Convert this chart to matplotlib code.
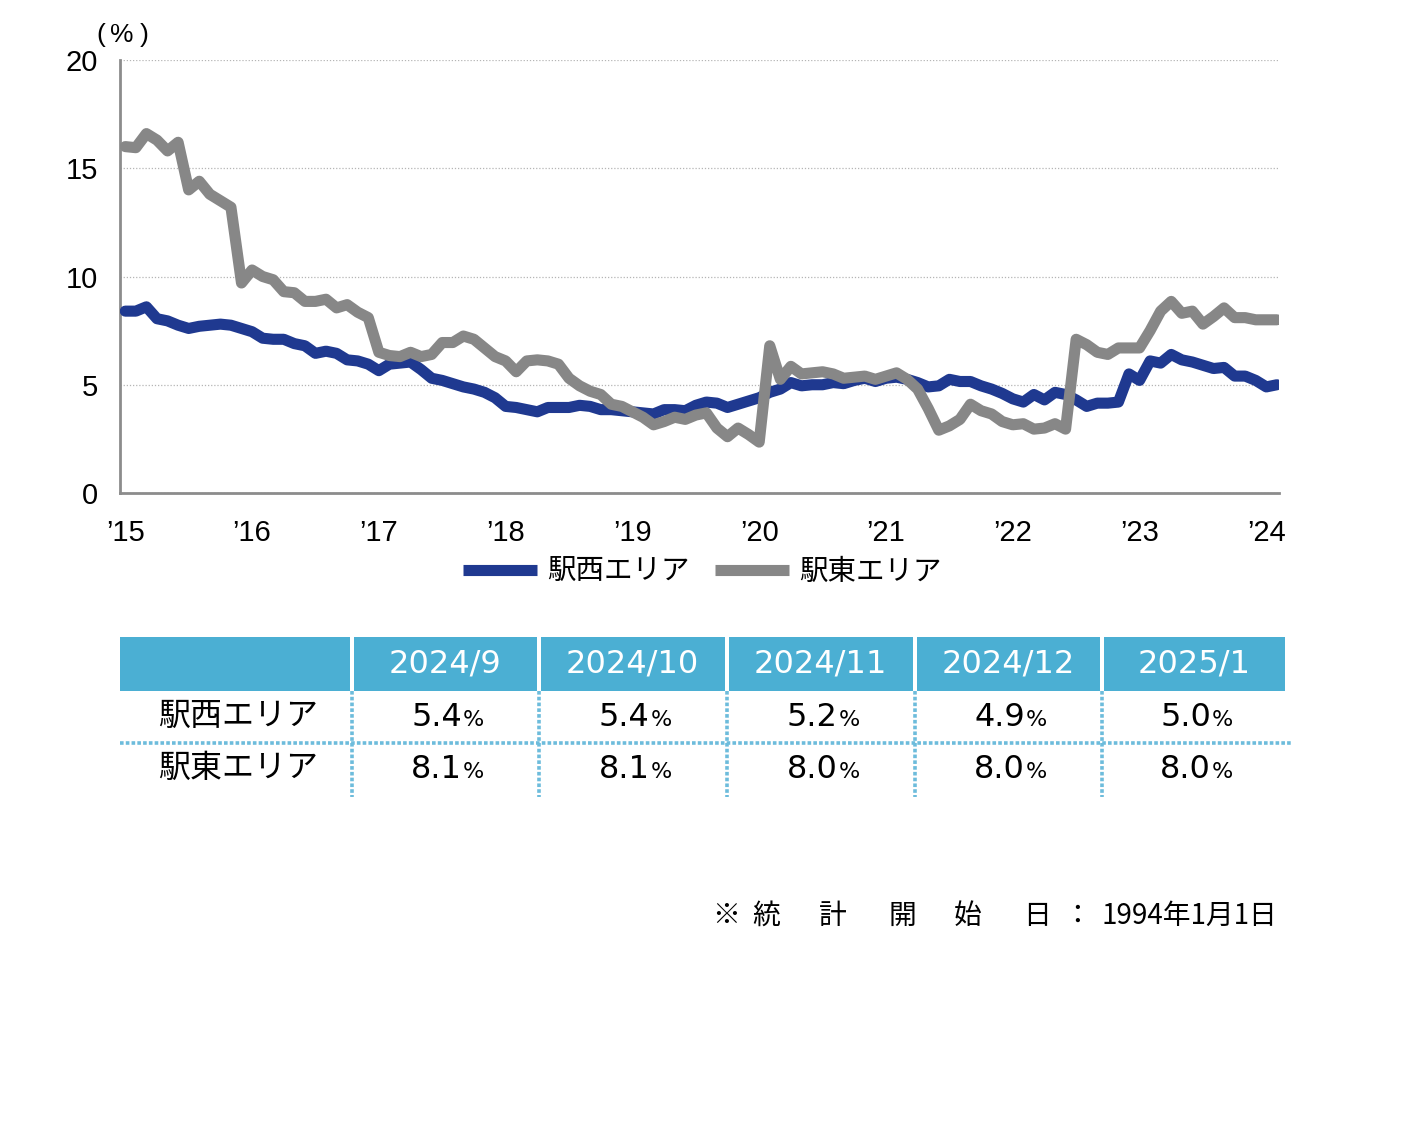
import matplotlib
matplotlib.use("Agg")
import matplotlib.pyplot as plt
from matplotlib.patches import Rectangle
from matplotlib.lines import Line2D

plt.rcParams['font.family'] = ['Noto Sans CJK JP', 'DejaVu Sans']

# monthly vacancy rate (%), 2015/12 .. 2025/1
west = [8.4, 8.4, 8.6, 8.05, 7.95, 7.75, 7.6, 7.7, 7.75, 7.8,
        7.75, 7.6, 7.45, 7.15, 7.1, 7.1, 6.9, 6.8, 6.45, 6.55,
        6.45, 6.15, 6.1, 5.95, 5.65, 5.95, 6.0, 6.05, 5.7, 5.3,
        5.2, 5.05, 4.9, 4.8, 4.65, 4.4, 4.0, 3.95, 3.85, 3.75,
        3.95, 3.95, 3.95, 4.05, 4.0, 3.85, 3.85, 3.8, 3.75, 3.7,
        3.65, 3.85, 3.85, 3.8, 4.05, 4.2, 4.15, 3.95, 4.1, 4.25,
        4.4, 4.65, 4.8, 5.1, 4.95, 5.0, 5.0, 5.1, 5.05, 5.2,
        5.3, 5.15, 5.3, 5.35, 5.25, 5.1, 4.9, 4.95, 5.25, 5.15,
        5.15, 4.95, 4.8, 4.6, 4.35, 4.2, 4.55, 4.3, 4.65, 4.55,
        4.3, 4.0, 4.15, 4.15, 4.2, 5.5, 5.2, 6.1, 6.0, 6.4,
        6.15, 6.05, 5.9, 5.75, 5.8, 5.4, 5.4, 5.2, 4.9, 5.0]
east = [16.0, 15.95, 16.6, 16.3, 15.8, 16.2, 14.0, 14.4, 13.8, 13.5,
        13.2, 9.7, 10.3, 10.0, 9.85, 9.3, 9.25, 8.85, 8.85, 8.95,
        8.55, 8.7, 8.35, 8.1, 6.5, 6.35, 6.3, 6.5, 6.3, 6.4,
        6.95, 6.95, 7.25, 7.1, 6.7, 6.3, 6.1, 5.6, 6.1, 6.15,
        6.1, 5.95, 5.3, 4.95, 4.7, 4.55, 4.1, 4.0, 3.75, 3.5,
        3.15, 3.3, 3.5, 3.4, 3.6, 3.7, 3.0, 2.6, 3.0, 2.7,
        2.35, 6.8, 5.25, 5.85, 5.5, 5.55, 5.6, 5.5, 5.3, 5.35,
        5.4, 5.25, 5.4, 5.55, 5.25, 4.8, 3.9, 2.9, 3.1, 3.4,
        4.1, 3.8, 3.65, 3.3, 3.15, 3.2, 2.95, 3.0, 3.2, 2.95,
        7.1, 6.85, 6.5, 6.4, 6.7, 6.7, 6.7, 7.5, 8.4, 8.85,
        8.3, 8.4, 7.8, 8.15, 8.55, 8.1, 8.1, 8.0, 8.0, 8.0]
year_labels = ["’15", "’16", "’17", "’18", "’19", "’20", "’21", "’22", "’23", "’24"]
names = ["駅西エリア", "駅東エリア"]

table_months = ["2024/9", "2024/10", "2024/11", "2024/12", "2025/1"]
table_west = ["5.4", "5.4", "5.2", "4.9", "5.0"]
table_east = ["8.1", "8.1", "8.0", "8.0", "8.0"]

BLUE = "#1f3990"
GRAY = "#878787"
HEAD = "#4bafd3"
DOT = "#6dbcdc"

W, H = 1412, 1148
fig = plt.figure(figsize=(W / 100, H / 100), dpi=100)

# ---- line chart ----
ax = fig.add_axes([120 / W, 1 - 493 / H, 1159 / W, 433 / H])
x = list(range(len(west)))
ax.plot(x, west, color=BLUE, lw=8, solid_joinstyle="round",
        solid_capstyle="round", zorder=3)
ax.plot(x, east, color=GRAY, lw=8, solid_joinstyle="round",
        solid_capstyle="round", zorder=4)

ax.set_xlim(-0.5, 109.2)
ax.set_ylim(0, 20)
ax.set_yticks([0, 5, 10, 15, 20])
ax.set_xticks(range(0, 12 * len(year_labels), 12))
ax.set_xticklabels(year_labels)
for s in ["top", "right"]:
    ax.spines[s].set_visible(False)
for s in ["left", "bottom"]:
    ax.spines[s].set_color("#8c8c8c")
    ax.spines[s].set_linewidth(2)
ax.tick_params(length=0)
ax.tick_params(axis="y", pad=16)
ax.tick_params(axis="x", pad=19)
for lab in ax.get_xticklabels() + ax.get_yticklabels():
    lab.set_family("Liberation Sans")
    lab.set_fontsize(21)
ax.yaxis.grid(True, linestyle=(0, (1, 1.5)), color="#b5b5b5", lw=0.9)
ax.set_axisbelow(True)

# unit label "（%）"
for ch, xv in zip(["(", "%", ")"], [101, 122, 144]):
    fig.text(xv / W, 1 - 35 / H, ch, fontsize=19, ha="center", va="center",
             family="Liberation Sans")

handles = [Line2D([], [], color=BLUE, lw=8, solid_capstyle="butt"),
           Line2D([], [], color=GRAY, lw=8, solid_capstyle="butt")]
fig.legend(handles, names, loc="center", bbox_to_anchor=(702 / W, 1 - 572 / H),
           ncol=2, frameon=False, fontsize=20.5, handlelength=2.6,
           handletextpad=0.35, columnspacing=0.9)

# ---- table ----
tb = fig.add_axes([0, 0, 1, 1])
tb.set_xlim(0, W)
tb.set_ylim(H, 0)
tb.axis("off")

col_edges = [120, 353, 540, 728, 916, 1103, 1288]
for j in range(len(col_edges) - 1):
    x0 = col_edges[j] + (0 if j == 0 else 1)
    x1 = col_edges[j + 1] - 3
    tb.add_patch(Rectangle((x0, 637), x1 - x0, 54, color=HEAD, lw=0))
for j, m in enumerate(table_months):
    cx = (col_edges[j + 1] + col_edges[j + 2] - 3) / 2
    tb.text(cx, 664, m, color="white", fontsize=23, ha="center", va="center",
            family="DejaVu Sans")

for xv in col_edges[1:-1]:
    tb.plot([xv - 1, xv - 1], [691, 797], color=DOT, lw=2.6, ls=(0, (1, 0.6)))
tb.plot([120, 1292], [743, 743], color=DOT, lw=2.6, ls=(0, (1, 0.6)))

for r, (name, vals) in enumerate(zip(names, [table_west, table_east])):
    cy = 716 + r * 52
    tb.text(238, cy, name, fontsize=23, ha="center", va="center")
    for j, v in enumerate(vals):
        cx = (col_edges[j + 1] + col_edges[j + 2] - 3) / 2
        tb.text(cx + 17, cy + 1, v, fontsize=23, ha="right", va="center",
                family="DejaVu Sans")
        tb.text(cx + 18, cy + 4, "%", fontsize=16, ha="left", va="center",
                family="DejaVu Sans")

# ---- footnote ----
note_chars = ["※", "統", "計", "開", "始", "日", "："]
note_x = [726, 766, 833, 902, 968, 1037, 1077]
for ch, xv in zip(note_chars, note_x):
    tb.text(xv, 916, ch, fontsize=20, ha="center", va="center")
tb.text(1277, 916, "1994年1月1日", fontsize=20, ha="right", va="center")

fig.savefig("out.png", dpi=100)
